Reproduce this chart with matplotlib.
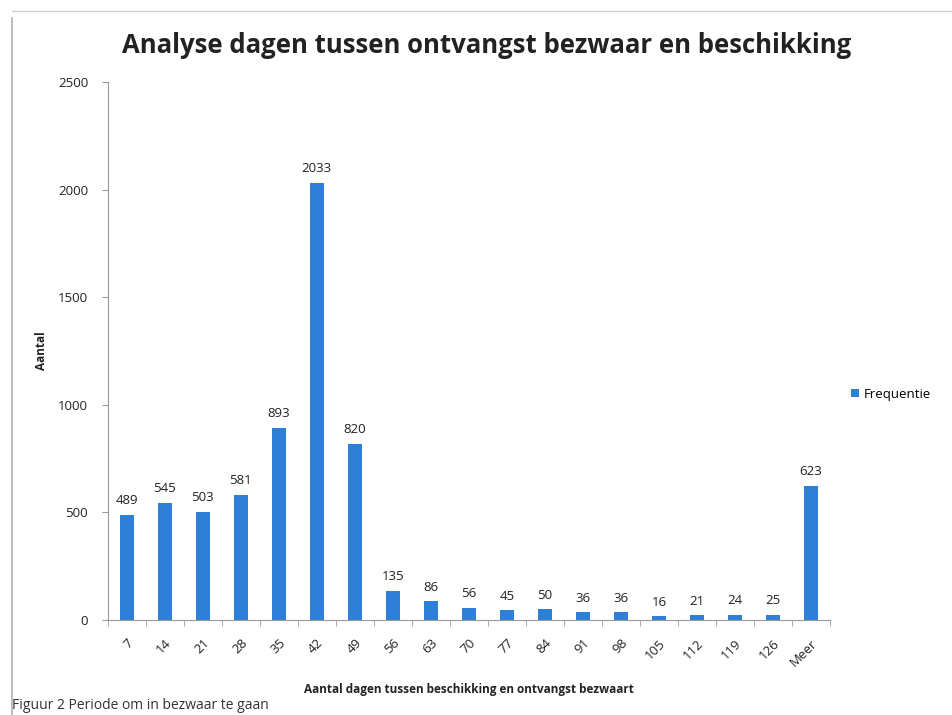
import matplotlib.pyplot as plt
from matplotlib.lines import Line2D
import numpy as np

plt.rcParams['font.family'] = ['Open Sans', 'DejaVu Sans']

categories = ["7", "14", "21", "28", "35", "42", "49", "56", "63", "70", "77",
              "84", "91", "98", "105", "112", "119", "126", "Meer"]
frequentie = [489, 545, 503, 581, 893, 2033, 820, 135, 86, 56, 45,
              50, 36, 36, 16, 21, 24, 25, 623]
y_ticks = [0, 500, 1000, 1500, 2000, 2500]

BAR_COLOR = "#2e7fd8"
AXIS_COLOR = "#9a9a9a"
TEXT_COLOR = "#222222"

fig = plt.figure(figsize=(9.53, 7.15), dpi=100)
ax = fig.add_axes([0.113, 0.133, 0.758, 0.752])

x = np.arange(len(categories))
bars = ax.bar(x, frequentie, width=0.37, color=BAR_COLOR, label="Frequentie")

for xi, v in zip(x, frequentie):
    ax.text(xi, v + 35, str(v), ha="center", va="bottom", fontsize=9.5,
            color=TEXT_COLOR)

ax.set_xlim(-0.5, len(categories) - 0.5)
ax.set_ylim(0, 2500)
ax.set_yticks(y_ticks)
ax.set_yticklabels([str(t) for t in y_ticks], fontsize=9.5, color=TEXT_COLOR)
ax.set_xticks(x)
ax.set_xticklabels(categories, rotation=45, ha="right", rotation_mode="anchor",
                   fontsize=9.5, color=TEXT_COLOR)
ax.set_xticks(np.arange(-0.5, len(categories), 1), minor=True)
ax.tick_params(axis="x", which="major", length=0, pad=12)
ax.tick_params(axis="x", which="minor", length=4, color=AXIS_COLOR)
ax.tick_params(axis="y", length=4, color=AXIS_COLOR, pad=10)

for side in ["top", "right"]:
    ax.spines[side].set_visible(False)
for side in ["left", "bottom"]:
    ax.spines[side].set_color(AXIS_COLOR)
    ax.spines[side].set_linewidth(0.8)

ax.set_ylabel("Aantal", fontsize=8.5, fontweight="bold", color=TEXT_COLOR,
              labelpad=7)
ax.set_xlabel("Aantal dagen tussen beschikking en ontvangst bezwaart",
              fontsize=8.5, fontweight="bold", color=TEXT_COLOR, labelpad=10)

fig.text(0.511, 0.937, "Analyse dagen tussen ontvangst bezwaar en beschikking",
         ha="center", va="center", fontsize=18.5, fontweight="bold",
         color=TEXT_COLOR)

ax.legend(loc="center left", bbox_to_anchor=(1.012, 0.42), frameon=False,
          fontsize=9.5, handlelength=0.6, handleheight=0.6, handletextpad=0.4)

fig.text(0.013, 0.003, "Figuur 2 Periode om in bezwaar te gaan", ha="left",
         va="bottom", fontsize=10, color="#333333")

# scan borders
fig.add_artist(Line2D([0.013, 0.013], [0.0, 0.975], transform=fig.transFigure,
                      color="#b0b0b0", linewidth=1.2))
fig.add_artist(Line2D([0.013, 1.0], [0.985, 0.985], transform=fig.transFigure,
                      color="#d0d0d0", linewidth=1.0))

fig.savefig("out.png", dpi=100)
